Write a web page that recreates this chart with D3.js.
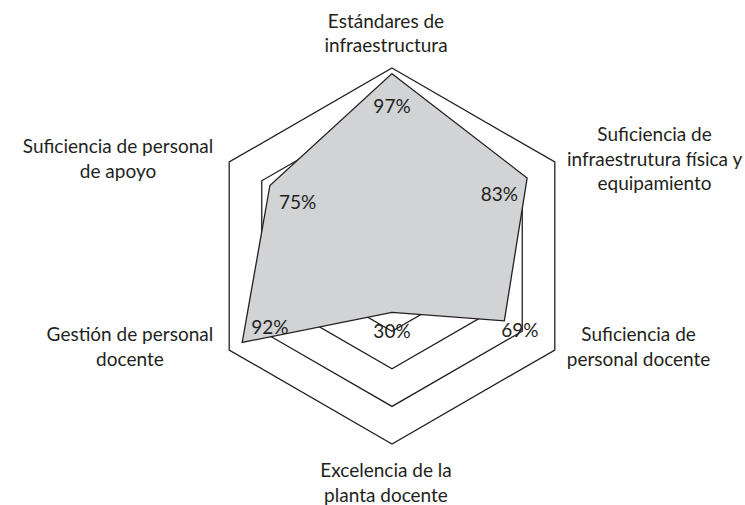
<!DOCTYPE html>
<html>
  <head>
  <meta charset="utf-8">
  <title>Radar</title>
  </head>
  <body>
  <style>
    body, html {
      margin: 0;
      padding: 0;
      background: #fff;
    }
    text {
      font-family: Lato, "Open Sans", sans-serif;
      fill: #231f20;
    }
  </style>

  <svg id="svg" width="745" height="505"></svg>

  <script src="https://cdn.jsdelivr.net/npm/d3@7"></script>
  <script>
    // axes go clockwise starting at the top
    const categories = [
      ['Estándares de', 'infraestructura'],
      ['Suficiencia de', 'infraestrutura física y', 'equipamiento'],
      ['Suficiencia de', 'personal docente'],
      ['Excelencia de la', 'planta docente'],
      ['Gestión de personal', 'docente'],
      ['Suficiencia de personal', 'de apoyo']
    ]
    const values = [97, 83, 69, 30, 92, 75]
    const gridLevels = [20, 40, 60, 80, 100]

    const cx = 392
    const cy = 256
    const radius = 188
    const n = categories.length

    const rScale = d3.scaleLinear()
      .domain([0, 100])
      .range([0, radius])

    const angle = i => i * 2 * Math.PI / n

    // x/y for a given axis and pixel radius
    const pos = (i, r) => [r * Math.sin(angle(i)), -r * Math.cos(angle(i))]

    const radial = d3.lineRadial()
      .angle((d, i) => angle(i))
      .radius(d => rScale(d))
      .curve(d3.curveLinearClosed)

    const svg = d3.select('#svg')
    const g = svg.append('g')
      .attr('transform', `translate(${cx}, ${cy})`)

    // grid hexagons
    g.selectAll('.grid')
      .data(gridLevels)
      .join('path')
      .attr('class', 'grid')
      .attr('d', lvl => radial(d3.range(n).map(() => lvl)))
      .attr('fill', 'none')
      .attr('stroke', '#231f20')
      .attr('stroke-width', 1.3)

    // data area
    g.append('path')
      .attr('d', radial(values))
      .attr('fill', '#d1d3d4')
      .attr('stroke', '#231f20')
      .attr('stroke-width', 1.3)
      .attr('stroke-linejoin', 'miter')

    // value labels, inside the area for large values, outside for small
    g.selectAll('.val')
      .data(values)
      .join('text')
      .attr('class', 'val')
      .attr('x', (d, i) => pos(i, rScale(d) + (d >= 70 ? -32 : 18))[0])
      .attr('y', (d, i) => pos(i, rScale(d) + (d >= 70 ? -32 : 18))[1])
      .attr('text-anchor', 'middle')
      .attr('dominant-baseline', 'central')
      .style('font-size', '19px')
      .text(d => d + '%')

    // category labels
    const lineH = 24.5
    categories.forEach((lines, i) => {
      const [vx, vy] = pos(i, radius)
      const lab = g.append('text')
        .attr('text-anchor', 'middle')
        .style('font-size', '19px')
      lines.forEach((l, k) => {
        lab.append('tspan')
          .attr('x', 0)
          .attr('y', k * lineH)
          .text(l)
      })
      const box = lab.node().getBBox()
      let tx, ty
      const sx = Math.sin(angle(i))
      if (Math.abs(sx) < 0.01) {
        tx = vx - 6
        // top label sits above apex, bottom label below
        ty = vy < 0 ? vy - 16 - (lines.length - 1) * lineH : vy + 33
      } else if (sx > 0) {
        tx = vx + 12 + box.width / 2
        ty = vy - 4 - (box.y + box.height / 2)
      } else {
        tx = vx - 16 - box.width / 2
        ty = vy - 4 - (box.y + box.height / 2)
      }
      lab.attr('transform', `translate(${tx}, ${ty})`)
    })
  </script>
  </body>
</html>
